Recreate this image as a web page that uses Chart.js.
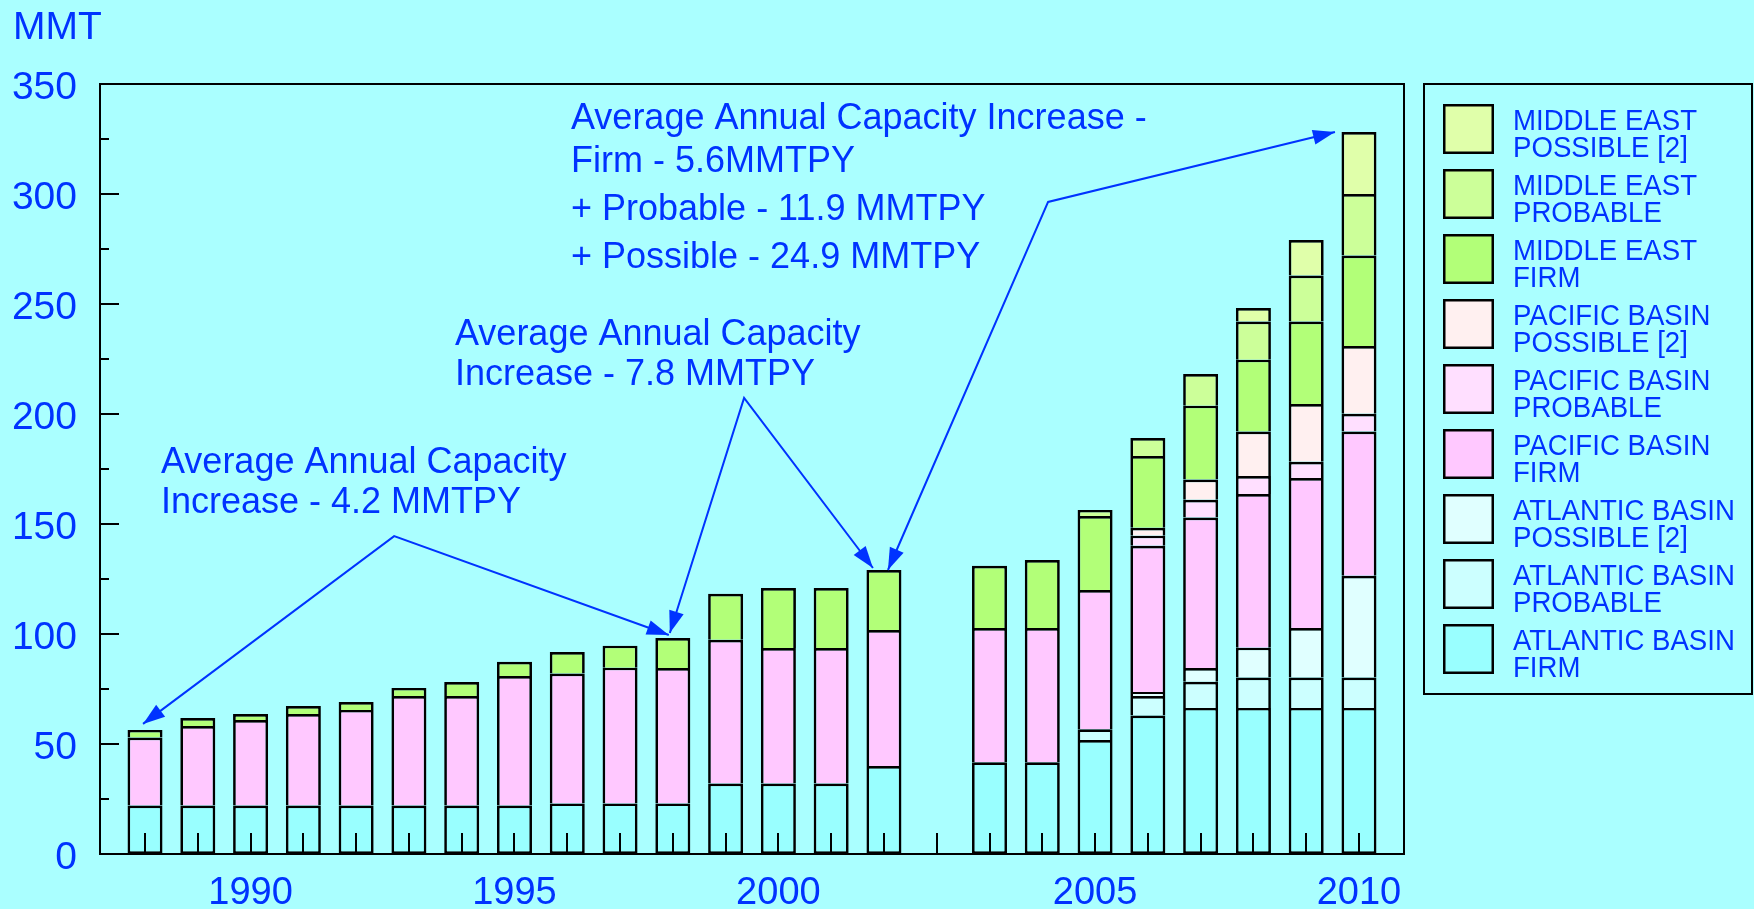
<!DOCTYPE html>
<html>
<head>
<meta charset="utf-8">
<script src="https://cdn.jsdelivr.net/npm/chart.js@4.4.1/dist/chart.umd.min.js"></script>
<style>
  html, body { margin: 0; padding: 0; background: #aaffff; }
  canvas { display: block; }
</style>
</head>
<body>
<canvas id="lngChart" width="1754" height="909"></canvas>
<script>
// years on the axis; the blank slot separates history from projections
var categories = ['1988', '1989', '1990', '1991', '1992', '1993', '1994', '1995', '1996', '1997',
                  '1998', '1999', '2000', '2001', '2002', '', '2003', '2004', '2005', '2006',
                  '2007', '2008', '2009', '2010'];
var tickLabels = ['1990', '1995', '2000', '2005', '2010'];
var yTicks = [0, 50, 100, 150, 200, 250, 300, 350];

// capacity, MMT
var abFirm     = [22, 22, 22, 22, 22, 22, 22, 22, 23, 23, 23, 32, 32, 32, 40, null, 41.7, 41.7, 51.8, 62.9, 66.4, 66.4, 66.4, 66.4];
var abProbable = [0, 0, 0, 0, 0, 0, 0, 0, 0, 0, 0, 0, 0, 0, 0, null, 0, 0, 4.9, 8.9, 11.9, 13.8, 13.8, 13.8];
var abPossible = [0, 0, 0, 0, 0, 0, 0, 0, 0, 0, 0, 0, 0, 0, 0, null, 0, 0, 0, 1.8, 6.2, 13.6, 22.5, 46.3];
var pbFirm     = [30.9, 36.2, 38.9, 41.6, 43.5, 49.8, 49.8, 58.9, 59, 61.7, 61.5, 65.4, 61.6, 61.6, 61.8, null, 61, 61, 63.3, 66.5, 68.4, 69.8, 68.2, 65.5];
var pbProbable = [0, 0, 0, 0, 0, 0, 0, 0, 0, 0, 0, 0, 0, 0, 0, null, 0, 0, 0, 4.6, 8.1, 8.2, 7.4, 8.1];
var pbPossible = [0, 0, 0, 0, 0, 0, 0, 0, 0, 0, 0, 0, 0, 0, 0, null, 0, 0, 0, 3.6, 9.2, 20.2, 26.2, 30.8];
var meFirm     = [3.5, 3.6, 2.7, 3.7, 3.6, 3.7, 6.4, 6.5, 9.8, 10, 13.7, 20.9, 27.3, 27.3, 27.3, null, 28.3, 30.9, 33.6, 32.6, 33.6, 32.7, 37.5, 41.1];
var meProbable = [0, 0, 0, 0, 0, 0, 0, 0, 0, 0, 0, 0, 0, 0, 0, null, 0, 0, 2.8, 8.2, 14.4, 17.3, 20.9, 28];
var mePossible = [0, 0, 0, 0, 0, 0, 0, 0, 0, 0, 0, 0, 0, 0, 0, null, 0, 0, 0, 0, 0, 6.2, 16.2, 28.2];

var FONT = "'Liberation Sans', Arial, sans-serif";
var BLUE = '#0033ff';

function series(label, values, color) {
  return {
    label: label,
    data: values.map(function (v, i) { return { x: i, y: v }; }),
    backgroundColor: color,
    borderColor: '#000',
    borderWidth: 2.7,
    borderSkipped: 'start',
    inflateAmount: 0,
    barThickness: 35,
    stack: 'all'
  };
}

var datasets = [
  series(['ATLANTIC BASIN', 'FIRM'], abFirm, '#99ffff'),
  series(['ATLANTIC BASIN', 'PROBABLE'], abProbable, '#ccffff'),
  series(['ATLANTIC BASIN', 'POSSIBLE [2]'], abPossible, '#e0ffff'),
  series(['PACIFIC BASIN', 'FIRM'], pbFirm, '#ffc8ff'),
  series(['PACIFIC BASIN', 'PROBABLE'], pbProbable, '#ffdfff'),
  series(['PACIFIC BASIN', 'POSSIBLE [2]'], pbPossible, '#fff0f0'),
  series(['MIDDLE EAST', 'FIRM'], meFirm, '#b2ff78'),
  series(['MIDDLE EAST', 'PROBABLE'], meProbable, '#ccff99'),
  series(['MIDDLE EAST', 'POSSIBLE [2]'], mePossible, '#e0ffaa')
];
datasets[0].borderSkipped = false;

function totalAt(i) {
  return datasets.reduce(function (s, d) { return s + (d.data[i].y || 0); }, 0);
}

// callouts: elbow in (slot, MMT), arrow tips as [slot, dx, lift above bar top]
var notes = [
  { lines: ['Average Annual Capacity', 'Increase - 4.2 MMTPY'], x: 161, base: [473, 513],
    elbow: [4.72, 144.5], tips: [[0, -2, 6], [10, -4, 3]] },
  { lines: ['Average Annual Capacity', 'Increase - 7.8 MMTPY'], x: 455, base: [345, 385],
    elbow: [11.35, 207.3], tips: [[10, -3, 5], [14, -11, 2]] },
  { lines: ['Average Annual Capacity Increase -', 'Firm - 5.6MMTPY', '+ Probable - 11.9 MMTPY', '+ Possible - 24.9 MMTPY'],
    x: 571, base: [129, 172, 220, 268],
    elbow: [17.11, 296.4], tips: [[14, 4, 0], [23, -24, 0]] }
];

function arrowHead(ctx, fx, fy, tx, ty) {
  var a = Math.atan2(ty - fy, tx - fx), len = 22, w = 7.5;
  ctx.beginPath();
  ctx.moveTo(tx, ty);
  ctx.lineTo(tx - len * Math.cos(a) + w * Math.sin(a), ty - len * Math.sin(a) - w * Math.cos(a));
  ctx.lineTo(tx - len * Math.cos(a) - w * Math.sin(a), ty - len * Math.sin(a) + w * Math.cos(a));
  ctx.closePath();
  ctx.fill();
}

var decor = {
  id: 'decor',
  beforeDraw: function (chart) {
    var ctx = chart.ctx;
    ctx.save();
    ctx.fillStyle = '#aaffff';
    ctx.fillRect(0, 0, chart.width, chart.height);
    ctx.restore();
  },
  afterDatasetsDraw: function (chart) {
    var ctx = chart.ctx, a = chart.chartArea;
    var xs = chart.scales.x, ys = chart.scales.y;
    ctx.save();
    ctx.strokeStyle = '#000';
    ctx.lineWidth = 2;
    ctx.strokeRect(a.left, a.top, a.right - a.left, a.bottom - a.top);
    // tick marks point into the plot
    ctx.beginPath();
    categories.forEach(function (c, i) {
      var px = Math.round(xs.getPixelForValue(i));
      ctx.moveTo(px, a.bottom);
      ctx.lineTo(px, a.bottom - 21);
    });
    for (var v = 25; v < 350; v += 25) {
      var py = Math.round(ys.getPixelForValue(v));
      ctx.moveTo(a.left, py);
      ctx.lineTo(a.left + (v % 50 === 0 ? 19 : 9), py);
    }
    ctx.stroke();
    ctx.restore();
  },
  afterDraw: function (chart) {
    var ctx = chart.ctx;
    var xs = chart.scales.x, ys = chart.scales.y;
    ctx.save();
    ctx.fillStyle = BLUE;
    ctx.textBaseline = 'alphabetic';
    ctx.font = '39px ' + FONT;
    ctx.fillText('MMT', 13, 39);

    // legend, top of the stack first
    ctx.strokeStyle = '#000';
    ctx.lineWidth = 2;
    ctx.strokeRect(1424, 84, 328, 610);
    ctx.font = '30px ' + FONT;
    datasets.slice().reverse().forEach(function (d, k) {
      var top = 104 + k * 65;
      ctx.fillStyle = d.backgroundColor;
      ctx.fillRect(1443, top, 51, 50);
      ctx.lineWidth = 2.5;
      ctx.strokeRect(1444.25, top + 1.25, 48.5, 47.5);
      ctx.fillStyle = BLUE;
      d.label.forEach(function (line, j) {
        ctx.save();
        ctx.translate(1513, top + 26 + j * 27);
        ctx.scale(0.92, 1);
        ctx.fillText(line, 0, 0);
        ctx.restore();
      });
    });

    // callouts
    ctx.font = '36px ' + FONT;
    ctx.strokeStyle = BLUE;
    ctx.fillStyle = BLUE;
    ctx.lineWidth = 2;
    notes.forEach(function (n) {
      n.lines.forEach(function (line, j) { ctx.fillText(line, n.x, n.base[j]); });
      var ex = xs.getPixelForValue(n.elbow[0]), ey = ys.getPixelForValue(n.elbow[1]);
      var pts = n.tips.map(function (t) {
        return [xs.getPixelForValue(t[0]) + t[1], ys.getPixelForValue(totalAt(t[0])) - t[2]];
      });
      ctx.beginPath();
      ctx.moveTo(pts[0][0], pts[0][1]);
      ctx.lineTo(ex, ey);
      ctx.lineTo(pts[1][0], pts[1][1]);
      ctx.stroke();
      pts.forEach(function (p) { arrowHead(ctx, ex, ey, p[0], p[1]); });
    });
    ctx.restore();
  }
};

var config = {
  type: 'bar',
  data: { datasets: datasets },
  options: {
    responsive: false,
    animation: false,
    layout: { padding: { top: 84, right: 350, bottom: 0, left: 0 } },
    plugins: {
      legend: { display: false },
      tooltip: { enabled: false }
    },
    scales: {
      x: {
        type: 'linear',
        stacked: true,
        offset: false,
        bounds: 'data',
        min: -0.853,
        max: 23.853,
        grid: { display: false, drawTicks: false, offset: false },
        border: { display: false },
        afterBuildTicks: function (axis) {
          axis.ticks = tickLabels.map(function (l) { return { value: categories.indexOf(l) }; });
        },
        afterFit: function (axis) { axis.height = 55; },
        ticks: {
          autoSkip: false,
          maxRotation: 0,
          padding: 17,
          color: BLUE,
          font: { size: 38, family: FONT },
          callback: function (v) { return categories[v]; }
        }
      },
      y: {
        stacked: true,
        min: 0,
        max: 350,
        grid: { display: false, drawTicks: false },
        border: { display: false },
        afterBuildTicks: function (axis) {
          axis.ticks = yTicks.map(function (v) { return { value: v }; });
        },
        afterFit: function (axis) { axis.width = 100; },
        ticks: {
          padding: 23,
          labelOffset: 4,
          color: BLUE,
          font: { size: 39, family: FONT }
        }
      }
    }
  },
  plugins: [decor]
};

var lngChart = new Chart(document.getElementById('lngChart'), config);
</script>
</body>
</html>
